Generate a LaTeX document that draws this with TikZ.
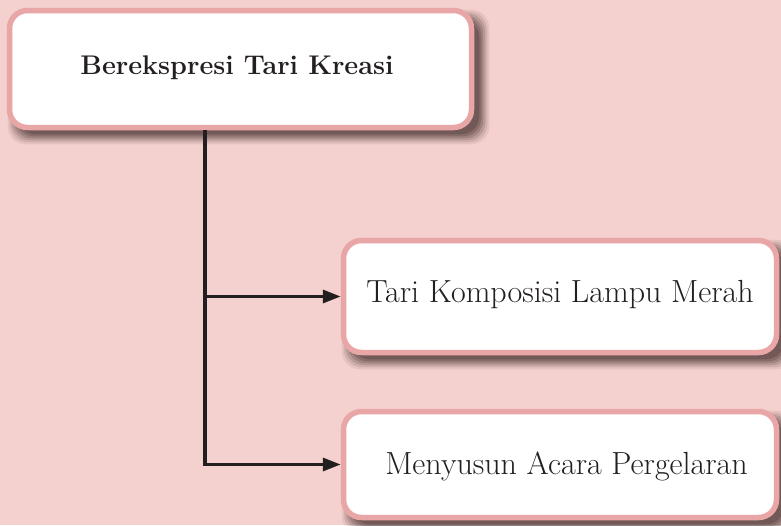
\documentclass[tikz,border=0pt]{standalone}
\usetikzlibrary{arrows.meta,calc}
\definecolor{bgpink}{RGB}{244,208,206}
\definecolor{boxborder}{RGB}{233,166,166}
\definecolor{inkc}{RGB}{35,31,32}
\definecolor{shadowc}{RGB}{60,40,40}
\pgfdeclarelayer{bglayer}
\pgfdeclarelayer{shadowlayer}
\pgfsetlayers{bglayer,shadowlayer,main}
\tikzset{
  box/.style={draw=boxborder, line width=5.5pt, fill=white, rounded corners=18pt,
    inner sep=0pt, text=inkc, align=center},
  conn/.style={draw=inkc, line width=3.3pt, -{Triangle[length=18pt,width=13pt]}},
}
\newcommand{\softshadow}[1]{%
  \begin{pgfonlayer}{shadowlayer}
    \foreach \d/\o in {7/0.08,5/0.12,3/0.16,1/0.2,-1/0.24,-3/0.28} {
      \fill[shadowc, opacity=\o, rounded corners=18pt]
        ($(#1.north west)+(8-\d,9-\d)$) rectangle ($(#1.south east)+(8+\d,7+\d)$);
    }
  \end{pgfonlayer}}
\begin{document}
\begin{tikzpicture}[x=1pt,y=-1pt]
  \begin{pgfonlayer}{bglayer}
    \fill[bgpink] (0,0) rectangle (781,525);
  \end{pgfonlayer}
  \useasboundingbox (0,0) rectangle (781,525);

  \node[box, minimum width=462pt, minimum height=117pt, text height=20pt, text depth=10pt,
        font=\fontsize{27}{31}\selectfont\bfseries] (b1) at (240.5,69) {Berekspresi Tari Kreasi\hspace*{7pt}};
  \softshadow{b1}

  \node[box, minimum width=433pt, minimum height=112pt, text height=22pt, text depth=11pt,
        font=\fontsize{32}{36}\selectfont] (b2) at (560,296.5) {Tari Komposisi Lampu Merah};
  \softshadow{b2}

  \node[box, minimum width=433pt, minimum height=106pt, text height=24pt, text depth=5pt,
        font=\fontsize{32}{36}\selectfont] (b3) at (560,464.5) {\hspace*{13pt}Menyusun Acara Pergelaran};
  \softshadow{b3}

  \coordinate (sp) at (205,0);
  \draw[conn] (b1.south -| sp) |- (b3.west);
  \draw[conn] (b2.west -| sp) -- (b2.west);
\end{tikzpicture}
\end{document}
